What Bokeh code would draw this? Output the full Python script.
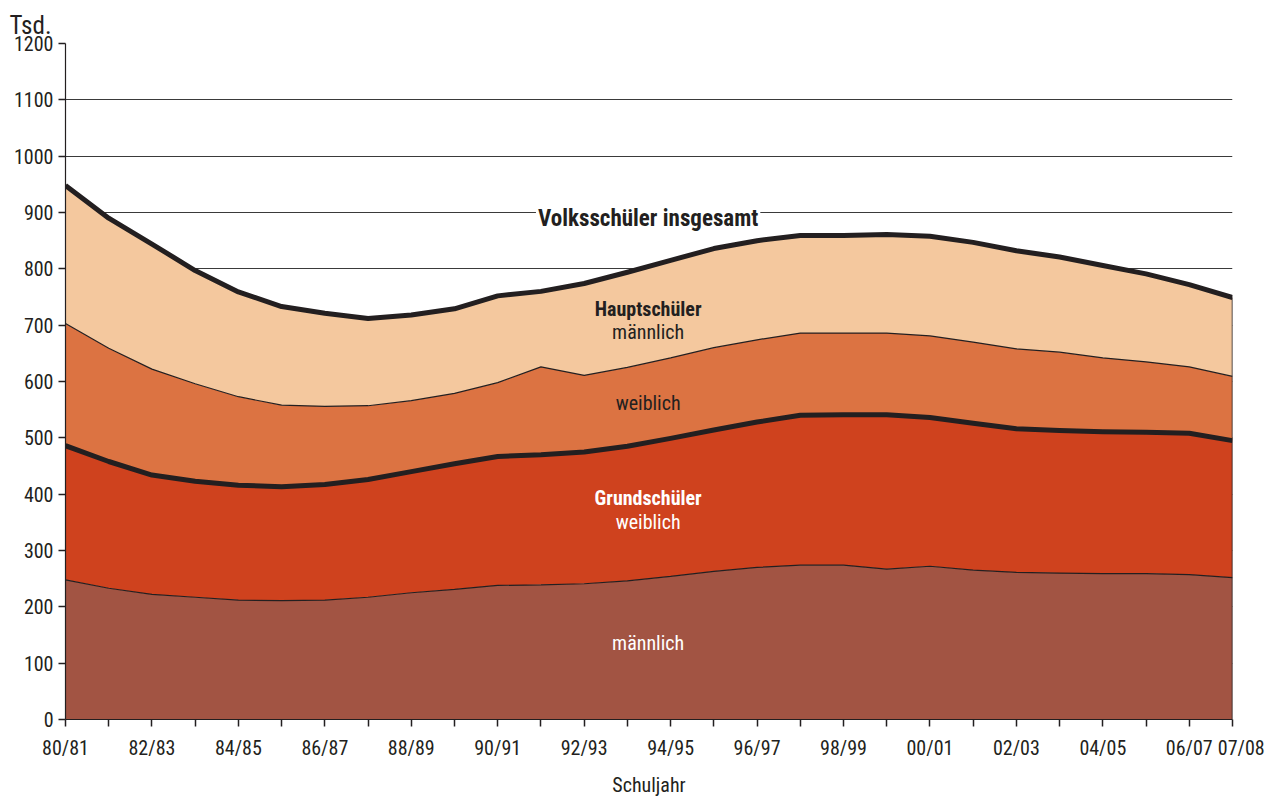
from bokeh.plotting import figure
from bokeh.models import ColumnDataSource, FixedTicker, Label, Range1d, Title
from bokeh.embed import file_html
from bokeh.resources import INLINE

# ---------------- data (Tsd.) ----------------
schuljahre = ["80/81", "81/82", "82/83", "83/84", "84/85", "85/86", "86/87", "87/88",
              "88/89", "89/90", "90/91", "91/92", "92/93", "93/94", "94/95", "95/96",
              "96/97", "97/98", "98/99", "99/00", "00/01", "01/02", "02/03", "03/04",
              "04/05", "05/06", "06/07", "07/08"]
grund_maennlich = [248, 233, 222, 217, 212, 211, 212, 217, 225, 231, 238, 239, 241, 246,
                   254, 263, 270, 274, 274, 267, 272, 265, 261, 260, 259, 259, 257, 252]
grund_weiblich = [238, 225, 212, 206, 204, 202, 205, 209, 215, 223, 229, 231, 234, 239,
                  245, 251, 258, 266, 267, 274, 264, 261, 255, 253, 252, 251, 251, 243]
haupt_weiblich = [217, 201, 188, 173, 157, 145, 139, 131, 126, 125, 131, 156, 136, 140,
                  143, 146, 146, 146, 145, 145, 145, 144, 142, 139, 131, 125, 118, 114]
haupt_maennlich = [245, 231, 222, 201, 186, 175, 165, 155, 152, 150, 154, 134, 163, 169,
                   173, 176, 176, 173, 173, 175, 177, 177, 174, 169, 164, 156, 146, 140]
y_ticks = [0, 100, 200, 300, 400, 500, 600, 700, 800, 900, 1000, 1100, 1200]

# ---------------- styles ----------------
FONT = "'Liberation Sans Narrow', 'Roboto Condensed', 'DejaVu Sans Condensed', sans-serif"
DARK = "#231F20"
COLORS = ["#A25443", "#CF421E", "#DC7342", "#F4C89E"]

x = list(range(len(schuljahre)))
b1 = [a for a in grund_maennlich]
b2 = [a + b for a, b in zip(b1, grund_weiblich)]
b3 = [a + b for a, b in zip(b2, haupt_weiblich)]
b4 = [a + b for a, b in zip(b3, haupt_maennlich)]

src = ColumnDataSource(dict(x=x, gm=grund_maennlich, gw=grund_weiblich,
                            hw=haupt_weiblich, hm=haupt_maennlich,
                            b1=b1, b2=b2, b3=b3, b4=b4))

p = figure(width=1278, height=799, output_backend="svg", toolbar_location=None,
           x_range=Range1d(0, len(x) - 1), y_range=Range1d(0, 1200),
           min_border_left=65, min_border_right=46, min_border_top=43, min_border_bottom=70)
p.outline_line_color = None
p.background_fill_color = "white"

p.varea_stack(["gm", "gw", "hw", "hm"], x="x", color=COLORS, source=src)

p.line("x", "b1", source=src, line_color=DARK, line_width=1.2)
p.line("x", "b3", source=src, line_color=DARK, line_width=1.2)
p.line("x", "b2", source=src, line_color=DARK, line_width=5, line_join="round")
p.line("x", "b4", source=src, line_color=DARK, line_width=5, line_join="round")
p.segment(x0=[x[-1]], y0=[0], x1=[x[-1]], y1=[b4[-1]], line_color=DARK, line_width=1.5)

# grid
p.xgrid.visible = False
p.ygrid.ticker = FixedTicker(ticks=y_ticks)
p.ygrid.grid_line_color = "#3a3a3a"
p.ygrid.grid_line_width = 1

# axes
p.yaxis.ticker = FixedTicker(ticks=y_ticks)
p.xaxis.ticker = FixedTicker(ticks=x)
overrides = {}
for i, labtxt in enumerate(schuljahre):
    if i == len(x) - 1:
        overrides[i] = "\u2003" + labtxt
    elif i % 2 == 0:
        overrides[i] = labtxt
    else:
        overrides[i] = ""
p.xaxis.major_label_overrides = overrides
for ax in (p.xaxis[0], p.yaxis[0]):
    ax.axis_line_color = DARK
    ax.axis_line_width = 1.2
    ax.major_tick_line_color = DARK
    ax.major_tick_line_width = 1.5
    ax.major_tick_out = 7
    ax.major_tick_in = 0
    ax.minor_tick_line_color = None
    ax.major_label_text_font = FONT
    ax.major_label_text_font_size = "20px"
    ax.major_label_text_color = DARK
p.yaxis.major_label_standoff = 5
p.xaxis.major_label_standoff = 9
p.xaxis.axis_label = "Schuljahr"
p.xaxis.axis_label_text_font = FONT
p.xaxis.axis_label_text_font_style = "normal"
p.xaxis.axis_label_text_font_size = "20px"
p.xaxis.axis_label_text_color = DARK
p.xaxis.axis_label_standoff = 10

# "Tsd." unit title above the y axis
tsd = Title(text="Tsd.", align="left", offset=-56, standoff=8, vertical_align="bottom")
tsd.text_font = FONT
tsd.text_font_size = "25px"
tsd.text_font_style = "normal"
tsd.text_color = DARK
p.add_layout(tsd, "above")

# labels
def lab(xv, yv, text, color=DARK, bold=False, bg=None, size="20px"):
    l = Label(x=xv, y=yv, text=text, text_font=FONT, text_font_size=size,
              text_color=color, text_align="center", text_baseline="middle",
              text_font_style="bold" if bold else "normal")
    if bg:
        l.background_fill_color = bg
        l.padding = 2
    p.add_layout(l)

cx = 13.48
lab(cx, 890, "Volksschüler insgesamt", bold=True, bg="white", size="23px")
lab(cx, 729, "Hauptschüler", bold=True)
lab(cx, 687, "männlich")
lab(cx, 561, "weiblich")
lab(cx, 393, "Grundschüler", color="white", bold=True)
lab(cx, 351, "weiblich", color="white")
lab(cx, 135, "männlich", color="white")

open("out.html", "w").write(file_html(p, INLINE))
